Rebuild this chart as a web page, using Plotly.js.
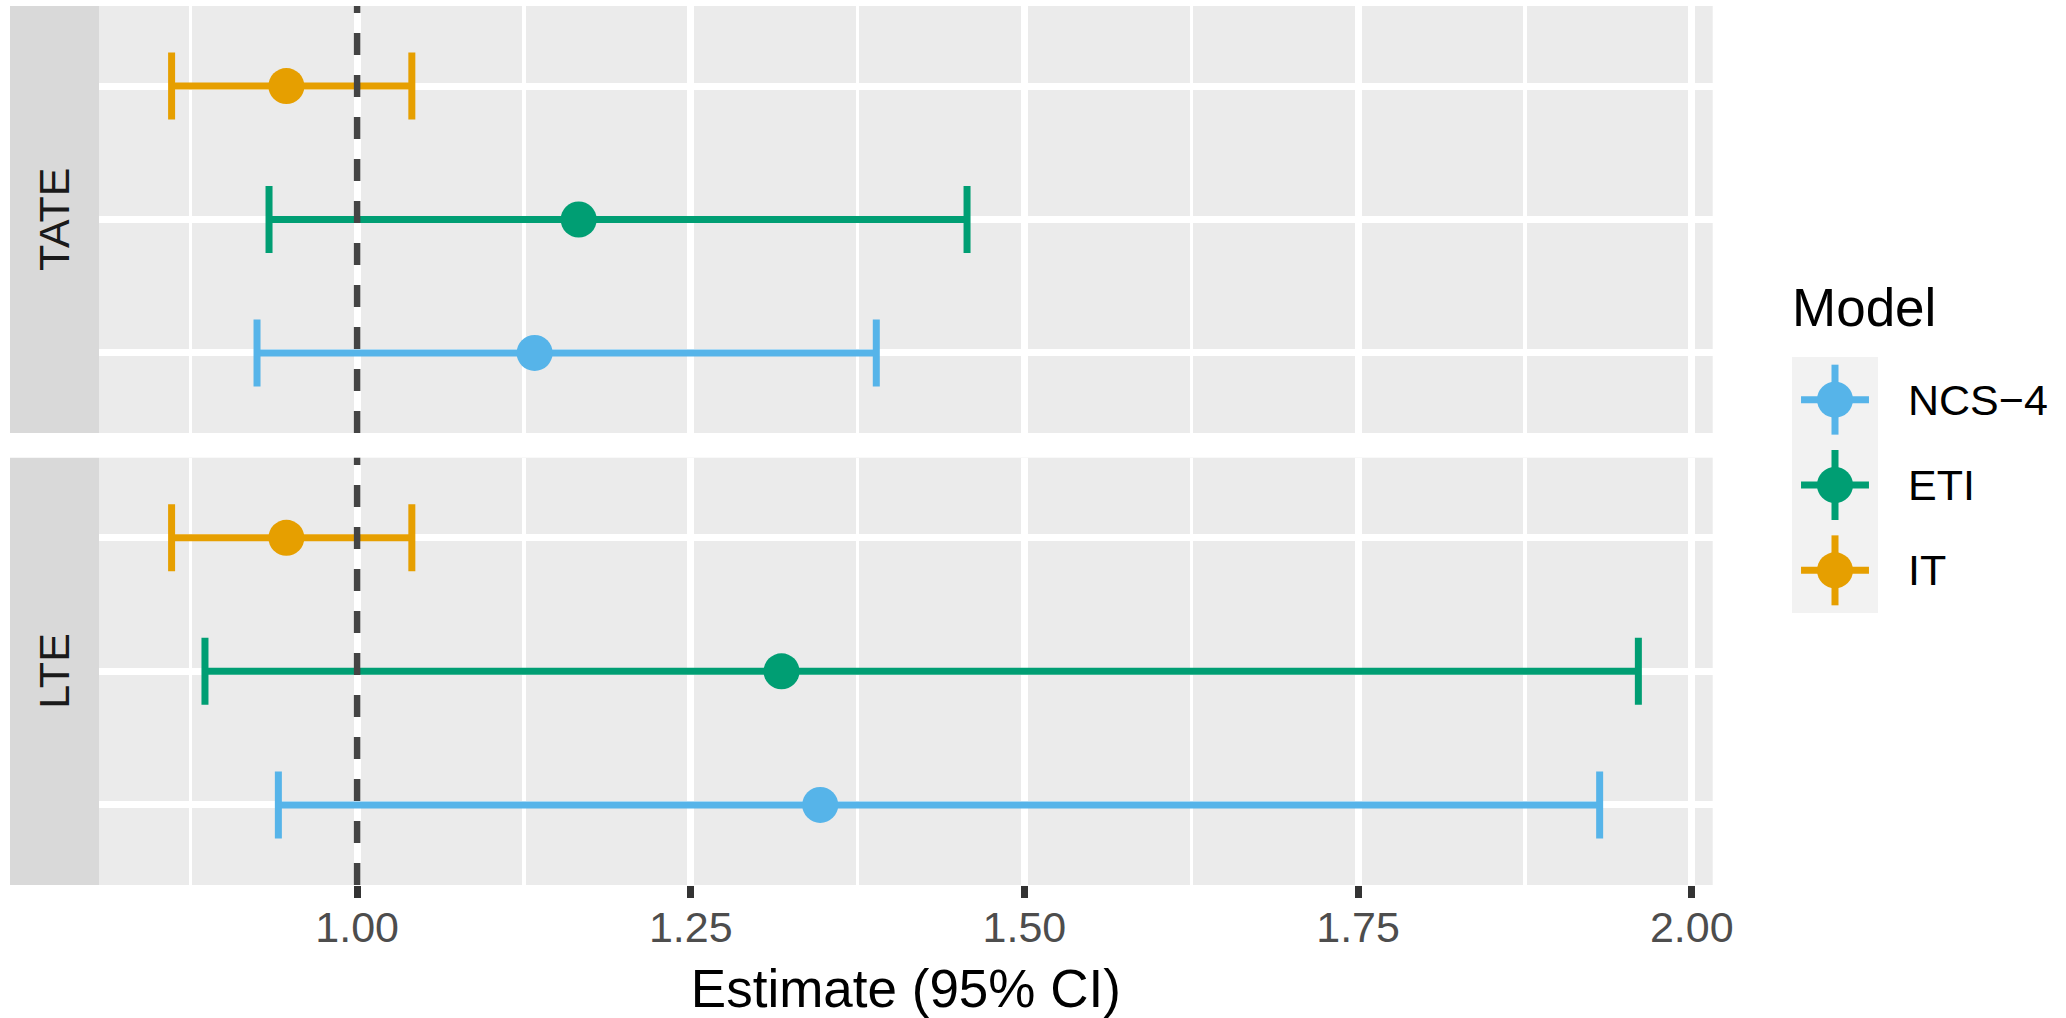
<!DOCTYPE html>
<html>
<head>
<meta charset="utf-8">
<script src="https://cdn.plot.ly/plotly-3.0.1.min.js"></script>
<style>html,body{margin:0;padding:0;background:#fff;}#chart{width:2066px;height:1018px;}</style>
</head>
<body>
<div id="chart"></div>
<script>
// ---- data ----
const models = ['NCS\u22124', 'ETI', 'IT'];
const modelColors = ['#56B4E9', '#009E73', '#E69F00'];
const panels = ['TATE', 'LTE'];
const tateEst = [1.133, 1.166, 0.947];
const tateLow = [0.925, 0.934, 0.861];
const tateHigh = [1.389, 1.457, 1.041];
const lteEst = [1.347, 1.318, 0.947];
const lteLow = [0.941, 0.886, 0.861];
const lteHigh = [1.931, 1.960, 1.041];
const tickVals = [1.00, 1.25, 1.50, 1.75, 2.00];
const tickText = ['1.00', '1.25', '1.50', '1.75', '2.00'];
const refLine = 1;
const xTitle = 'Estimate (95% CI)';
const legendTitle = 'Model';

// ---- geometry (figure pixels) ----
const W = 2066, H = 1018;
const FONT = '"Liberation Sans", Arial, sans-serif';
const px = v => v / W;
const py = v => (H - v) / H;
const plotL = 99, plotR = 1712.7;
const topPanel = [6, 433], botPanel = [457.7, 885];
const xRange = [0.8066, 2.0157];

const panelData = [
  {est: tateEst, lo: tateLow, hi: tateHigh, xa: 'x', ya: 'y'},
  {est: lteEst, lo: lteLow, hi: lteHigh, xa: 'x2', ya: 'y2'}
];

const traces = [];
panelData.forEach(p => {
  models.forEach((m, i) => {
    traces.push({
      type: 'scatter', mode: 'markers',
      x: [p.est[i]], y: [m], xaxis: p.xa, yaxis: p.ya,
      marker: {color: modelColors[i], size: 36, line: {width: 0}},
      error_x: {type: 'data', symmetric: false,
        array: [p.hi[i] - p.est[i]], arrayminus: [p.est[i] - p.lo[i]],
        color: modelColors[i], thickness: 7, width: 33.5},
      showlegend: false, hoverinfo: 'skip'
    });
  });
});
// legend keys (linear axis so vertical error bars can be drawn)
const keyIndex = models.map((m, i) => i);
models.forEach((m, i) => {
  traces.push({
    type: 'scatter', mode: 'markers', x: [0], y: [keyIndex[i]], xaxis: 'x3', yaxis: 'y3',
    marker: {color: modelColors[i], size: 36, line: {width: 0}},
    error_x: {type: 'constant', value: 0.79, color: modelColors[i], thickness: 7, width: 0},
    error_y: {type: 'constant', value: 0.41, color: modelColors[i], thickness: 7, width: 0},
    showlegend: false, hoverinfo: 'skip'
  });
});

const catAxis = (dom, anchor) => ({
  domain: dom, anchor: anchor, type: 'category',
  categoryorder: 'array', categoryarray: models,
  range: [-0.6, 2.6], showticklabels: false, ticks: '',
  showgrid: true, gridcolor: '#FFFFFF', gridwidth: 7,
  zeroline: false, showline: false, fixedrange: true
});
const numAxis = (anchor, labels) => ({
  domain: [px(plotL), px(plotR)], anchor: anchor,
  range: xRange, tickvals: tickVals, ticktext: tickText,
  showticklabels: labels, ticks: labels ? 'outside' : '',
  ticklen: 12, tickwidth: 7, tickcolor: '#333333',
  ticklabelstandoff: -8,
  tickfont: {family: FONT, size: 43, color: '#4D4D4D'},
  showgrid: true, gridcolor: '#FFFFFF', gridwidth: 7,
  minor: {tickvals: [0.875, 1.125, 1.375, 1.625, 1.875], showgrid: true, gridcolor: '#FFFFFF', gridwidth: 3.5, ticks: ''},
  zeroline: false, showline: false, fixedrange: true
});

const layout = {
  width: W, height: H, autosize: false,
  margin: {l: 0, r: 0, t: 0, b: 0},
  paper_bgcolor: '#FFFFFF', plot_bgcolor: '#EBEBEB',
  font: {family: FONT, color: '#000000'},
  showlegend: false,
  xaxis: numAxis('y', false),
  yaxis: catAxis([py(topPanel[1]), py(topPanel[0])], 'x'),
  xaxis2: Object.assign(numAxis('y2', true), {
    matches: 'x',
    title: {text: xTitle, font: {family: FONT, size: 53, color: '#000000'}, standoff: 24}
  }),
  yaxis2: catAxis([py(botPanel[1]), py(botPanel[0])], 'x2'),
  xaxis3: {domain: [px(1792), px(1878)], anchor: 'y3', range: [-1, 1],
    showgrid: false, zeroline: false, showticklabels: false, ticks: '', showline: false, fixedrange: true},
  yaxis3: {domain: [py(613), py(357)], anchor: 'x3', side: 'right',
    range: [2.5, -0.5], tickvals: keyIndex, ticktext: models,
    showgrid: false, zeroline: false, ticks: '', showline: false,
    ticklabelstandoff: 29,
    tickfont: {family: FONT, size: 43, color: '#000000'}, fixedrange: true},
  shapes: [
    // strips
    {type: 'rect', xref: 'paper', yref: 'paper', x0: px(10), x1: px(plotL), y0: py(topPanel[1]), y1: py(topPanel[0]),
      fillcolor: '#D9D9D9', line: {width: 0}, layer: 'below'},
    {type: 'rect', xref: 'paper', yref: 'paper', x0: px(10), x1: px(plotL), y0: py(botPanel[1]), y1: py(botPanel[0]),
      fillcolor: '#D9D9D9', line: {width: 0}, layer: 'below'},
    // legend key background
    {type: 'rect', xref: 'x3 domain', yref: 'y3 domain', x0: 0, x1: 1, y0: 0, y1: 1,
      fillcolor: '#F2F2F2', line: {width: 0}, layer: 'below'},
    // reference lines
    {type: 'line', xref: 'x', yref: 'y domain', x0: refLine, x1: refLine, y0: 0, y1: 1,
      line: {color: '#444444', width: 6.5, dash: '22px,20px'}, layer: 'above'},
    {type: 'line', xref: 'x2', yref: 'y2 domain', x0: refLine, x1: refLine, y0: 0, y1: 1,
      line: {color: '#444444', width: 6.5, dash: '22px,20px'}, layer: 'above'}
  ],
  annotations: [
    {text: panels[0], xref: 'paper', yref: 'paper', x: px((10 + plotL) / 2), y: py((topPanel[0] + topPanel[1]) / 2),
      textangle: -90, showarrow: false, xanchor: 'center', yanchor: 'middle',
      font: {family: FONT, size: 43, color: '#1A1A1A'}},
    {text: panels[1], xref: 'paper', yref: 'paper', x: px((10 + plotL) / 2), y: py((botPanel[0] + botPanel[1]) / 2),
      textangle: -90, showarrow: false, xanchor: 'center', yanchor: 'middle',
      font: {family: FONT, size: 43, color: '#1A1A1A'}},
    {text: legendTitle, xref: 'paper', yref: 'paper', x: px(1790), y: py(308),
      showarrow: false, xanchor: 'left', yanchor: 'middle',
      font: {family: FONT, size: 53, color: '#000000'}}
  ]
};

Plotly.newPlot('chart', traces, layout, {displayModeBar: false, staticPlot: true});
</script>
</body>
</html>
